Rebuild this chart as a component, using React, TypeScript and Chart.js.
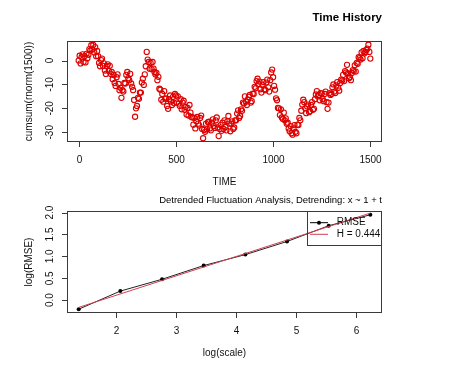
import React, { useEffect, useRef } from "react";
import { Chart, registerables } from "chart.js";

Chart.register(...registerables);

const FONT = '"Liberation Sans", Arial, Helvetica, sans-serif';

// ---- Top panel: Time History (readings of cumsum(rnorm(1500)), every 5th step) ----
const TIME_STEP = 5;
const cumsumValues = [
  0.0, 2.0, -1.2, 1.4, 2.6, -0.6, 1.8, -0.8, 2.8, 1.0,
  2.4, 4.8, 4.2, 6.4, 4.6, 6.5, 3.4, 5.6, 1.8, 4.0,
  1.8, -1.0, -2.4, 0.2, 0.8, -2.2, -1.2, -4.2, -5.6, -2.4,
  -1.6, -4.4, -2.2, -5.6, -4.8, -7.8, -6.0, -9.4, -10.6, -7.0,
  -5.8, -9.8, -12.4, -11.4, -15.6, -12.4, -13.0, -9.4, -9.6, -6.0,
  -4.8, -7.4, -8.2, -5.6, -9.6, -11.0, -12.4, -16.5, -23.5, -20.0,
  -19.0, -15.6, -16.0, -13.4, -13.4, -9.2, -7.6, -10.2, -5.8, -2.4,
  3.6, 0.4, -0.6, -3.4, -1.0, -3.6, -0.6, -3.4, -4.8, -5.8,
  -5.2, -8.2, -6.8, -11.8, -12.2, -16.4, -14.0, -17.2, -12.8, -16.0,
  -15.8, -19.0, -20.2, -16.2, -14.6, -17.2, -18.6, -15.2, -17.8, -14.0,
  -14.6, -17.6, -15.0, -18.0, -19.0, -16.2, -20.4, -17.6, -16.8, -20.6,
  -19.4, -22.6, -19.8, -23.0, -18.6, -21.8, -23.6, -23.8, -26.8, -24.0,
  -28.4, -25.4, -23.6, -26.4, -27.2, -24.0, -23.0, -28.6, -32.5, -29.0,
  -29.8, -26.4, -28.8, -25.8, -25.6, -28.4, -29.2, -26.0, -24.6, -27.4,
  -28.2, -25.0, -23.8, -28.0, -31.6, -28.6, -27.0, -29.4, -26.0, -28.6,
  -25.0, -27.8, -29.2, -25.4, -23.2, -26.4, -29.6, -26.4, -25.4, -28.6,
  -28.0, -25.0, -25.0, -22.2, -20.8, -24.0, -23.2, -20.4, -21.0, -17.6,
  -18.0, -15.0, -17.2, -18.6, -16.4, -15.2, -14.4, -17.6, -17.0, -13.8,
  -14.0, -11.0, -11.6, -8.6, -7.6, -9.8, -8.8, -12.0, -13.4, -10.2,
  -9.0, -12.0, -12.4, -9.2, -8.0, -11.2, -13.0, -8.2, -5.0, -3.8,
  -7.0, -10.6, -12.2, -15.8, -16.6, -19.8, -20.0, -22.8, -20.4, -23.8,
  -24.4, -21.8, -25.0, -24.2, -26.4, -26.0, -28.4, -29.6, -27.4, -30.4,
  -31.0, -28.4, -27.0, -29.8, -30.4, -26.8, -27.0, -24.0, -25.0, -21.0,
  -18.4, -16.4, -17.4, -20.0, -22.0, -19.2, -18.4, -21.6, -21.2, -18.6,
  -17.4, -20.6, -20.2, -16.2, -14.2, -12.8, -15.0, -14.4, -16.6, -13.6,
  -13.8, -16.2, -17.0, -14.0, -13.0, -17.4, -20.2, -17.6, -13.6, -14.4,
  -14.0, -11.2, -10.0, -13.0, -13.6, -10.4, -9.0, -11.4, -12.6, -9.4,
  -8.0, -8.4, -6.0, -8.6, -4.4, -5.0, -1.8, -5.4, -7.4, -7.0,
  -8.2, -5.2, -4.0, -4.4, -2.0, -4.6, -1.0, -1.4, 1.4, 1.0,
  0.4, 3.4, 1.0, 4.0, 3.0, 3.6, 4.4, 5.0, 6.6, 3.6,
  0.8,
];
const timePoints = cumsumValues.map((_, i) => i * TIME_STEP);
const timeTicks = [0, 500, 1000, 1500];
const timeTickLabels = ["0", "500", "1000", "1500"];
const cumsumTicks = [0, -10, -20, -30];
const cumsumTickLabels = ["0", "-10", "-20", "-30"];

// ---- Bottom panel: DFA ----
const dfaLogScale = [1.386, 2.079, 2.773, 3.466, 4.159, 4.852, 5.545, 6.238];
const dfaLogRmse = [-0.207, 0.207, 0.477, 0.79, 1.04, 1.34, 1.7, 1.95];
const hurst = 0.444;
const fitIntercept = -0.781;
const scaleTicks = [2, 3, 4, 5, 6];
const scaleTickLabels = ["2", "3", "4", "5", "6"];
const rmseTicks = [0, 0.5, 1, 1.5, 2];
const rmseTickLabels = ["0.0", "0.5", "1.0", "1.5", "2.0"];

// R-style axis range (+/- 4%)
function rRange(vals: number[]): [number, number] {
  const lo = Math.min(...vals);
  const hi = Math.max(...vals);
  const d = (hi - lo) * 0.04;
  return [lo - d, hi + d];
}

type AxesOpts = {
  xTicks: number[];
  xLabels: string[];
  yTicks: number[];
  yLabels: string[];
  xTitle: string;
  yTitle: string;
  title: string;
  titleFont: string;
  titleY: number;
  xLabelOffset: number;
  xTitleY: number;
  legend?: boolean;
};

function rAxesPlugin(o: AxesOpts) {
  return {
    id: "rAxes",
    afterDraw(chart: any) {
      const ctx = chart.ctx as CanvasRenderingContext2D;
      const { left, right, top, bottom } = chart.chartArea;
      const xs = chart.scales.x;
      const ys = chart.scales.y;
      ctx.save();
      ctx.strokeStyle = "#3a3a3a";
      ctx.lineWidth = 1;
      ctx.strokeRect(left + 0.5, top + 0.5, right - left - 1, bottom - top - 1);

      ctx.fillStyle = "#111";
      ctx.font = `10px ${FONT}`;
      ctx.textAlign = "center";
      ctx.textBaseline = "middle";
      ctx.beginPath();
      o.xTicks.forEach((v, i) => {
        const px = Math.round(xs.getPixelForValue(v)) + 0.5;
        ctx.moveTo(px, bottom);
        ctx.lineTo(px, bottom + 5);
        ctx.fillText(o.xLabels[i], px, bottom + o.xLabelOffset);
      });
      o.yTicks.forEach((v) => {
        const py = Math.round(ys.getPixelForValue(v)) + 0.5;
        ctx.moveTo(left, py);
        ctx.lineTo(left - 5, py);
      });
      ctx.stroke();
      o.yTicks.forEach((v, i) => {
        const py = ys.getPixelForValue(v);
        ctx.save();
        ctx.translate(left - 17, py);
        ctx.rotate(-Math.PI / 2);
        ctx.fillText(o.yLabels[i], 0, 0);
        ctx.restore();
      });

      // axis titles
      ctx.fillText(o.xTitle, (left + right) / 2, o.xTitleY);
      ctx.save();
      ctx.translate(29, (top + bottom) / 2);
      ctx.rotate(-Math.PI / 2);
      ctx.fillText(o.yTitle, 0, 0);
      ctx.restore();

      // main title
      ctx.font = o.titleFont;
      ctx.textAlign = "right";
      ctx.fillStyle = "#000";
      ctx.fillText(o.title, right, o.titleY);

      if (o.legend) {
        const lw = 75;
        const lh = 35;
        const lx = right - lw;
        ctx.strokeStyle = "#3a3a3a";
        ctx.strokeRect(lx + 0.5, top + 0.5, lw - 1, lh - 1);
        const y1 = top + 11.7;
        const y2 = top + 23.3;
        ctx.beginPath();
        ctx.strokeStyle = "#000";
        ctx.moveTo(lx + 3, y1);
        ctx.lineTo(lx + 21, y1);
        ctx.stroke();
        ctx.beginPath();
        ctx.fillStyle = "#000";
        ctx.arc(lx + 12, y1, 2, 0, Math.PI * 2);
        ctx.fill();
        ctx.beginPath();
        ctx.strokeStyle = "#D04050";
        ctx.moveTo(lx + 3, y2);
        ctx.lineTo(lx + 21, y2);
        ctx.stroke();
        ctx.font = `10px ${FONT}`;
        ctx.textAlign = "left";
        ctx.fillStyle = "#111";
        ctx.fillText("RMSE", lx + 29.7, y1);
        ctx.fillText(`H = ${hurst.toFixed(3)}`, lx + 29.7, y2);
      }
      ctx.restore();
    },
  };
}

function TopChart() {
  const ref = useRef<HTMLCanvasElement>(null);
  useEffect(() => {
    const [xMin, xMax] = rRange(timePoints);
    const [yMin, yMax] = rRange(cumsumValues);
    const chart = new Chart(ref.current!, {
      type: "scatter",
      data: {
        datasets: [
          {
            data: timePoints.map((t, i) => ({ x: t, y: cumsumValues[i] })),
            pointStyle: "circle",
            pointRadius: 2.6,
            borderWidth: 1.1,
            borderColor: "rgb(222,0,0)",
            backgroundColor: "rgba(0,0,0,0)",
          },
        ],
      },
      options: {
        responsive: false,
        animation: false,
        devicePixelRatio: 1,
        layout: { padding: { left: 67, right: 68, top: 41, bottom: 48 } },
        plugins: { legend: { display: false }, tooltip: { enabled: false } },
        scales: {
          x: { type: "linear", min: xMin, max: xMax, display: false },
          y: { type: "linear", min: yMin, max: yMax, display: false },
        },
      },
      plugins: [
        rAxesPlugin({
          xTicks: timeTicks,
          xLabels: timeTickLabels,
          yTicks: cumsumTicks,
          yLabels: cumsumTickLabels,
          xTitle: "TIME",
          yTitle: "cumsum(rnorm(1500))",
          title: "Time History",
          titleFont: `bold 11.5px ${FONT}`,
          titleY: 18.3,
          xLabelOffset: 18.7,
          xTitleY: 182.7,
        }),
      ],
    });
    return () => chart.destroy();
  }, []);
  return (
    <canvas
      ref={ref}
      width={450}
      height={190}
      style={{ position: "absolute", left: 0, top: 0, width: 450, height: 190 }}
    />
  );
}

function BottomChart() {
  const ref = useRef<HTMLCanvasElement>(null);
  useEffect(() => {
    const [xMin, xMax] = rRange(dfaLogScale);
    const [yMin, yMax] = rRange(dfaLogRmse);
    const first = dfaLogScale[0];
    const last = dfaLogScale[dfaLogScale.length - 1];
    const chart = new Chart(ref.current!, {
      type: "line",
      data: {
        datasets: [
          {
            data: [
              { x: first, y: fitIntercept + hurst * first },
              { x: last, y: fitIntercept + hurst * last },
            ],
            borderColor: "#D04050",
            borderWidth: 1,
            pointRadius: 0,
            fill: false,
          },
          {
            data: dfaLogScale.map((x, i) => ({ x, y: dfaLogRmse[i] })),
            borderColor: "#222",
            borderWidth: 1,
            pointRadius: 2,
            pointBackgroundColor: "#000",
            pointBorderWidth: 0,
            fill: false,
          },
        ],
      },
      options: {
        responsive: false,
        animation: false,
        devicePixelRatio: 1,
        layout: { padding: { left: 67, right: 68, top: 21, bottom: 55 } },
        plugins: { legend: { display: false }, tooltip: { enabled: false } },
        scales: {
          x: { type: "linear", min: xMin, max: xMax, display: false },
          y: { type: "linear", min: yMin, max: yMax, display: false },
        },
      },
      plugins: [
        rAxesPlugin({
          xTicks: scaleTicks,
          xLabels: scaleTickLabels,
          yTicks: rmseTicks,
          yLabels: rmseTickLabels,
          xTitle: "log(scale)",
          yTitle: "log(RMSE)",
          title: "Detrended Fluctuation Analysis, Detrending: x ~ 1 + t",
          titleFont: `9.5px ${FONT}`,
          titleY: 10,
          xLabelOffset: 18,
          xTitleY: 163.3,
          legend: true,
        }),
      ],
    });
    return () => chart.destroy();
  }, []);
  return (
    <canvas
      ref={ref}
      width={450}
      height={178}
      style={{ position: "absolute", left: 0, top: 190, width: 450, height: 178 }}
    />
  );
}

export default function App() {
  return (
    <div
      style={{
        position: "absolute",
        left: 0,
        top: 0,
        width: 450,
        height: 368,
        background: "#fff",
        overflow: "hidden",
      }}
    >
      <TopChart />
      <BottomChart />
    </div>
  );
}
